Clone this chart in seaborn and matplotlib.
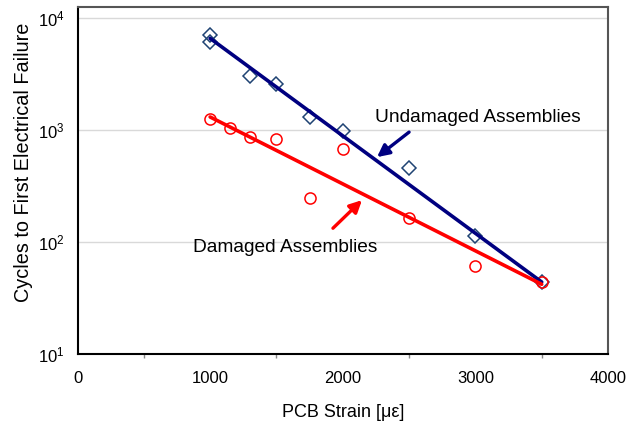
import numpy as np
import pandas as pd
import matplotlib
matplotlib.use("Agg")
import matplotlib.pyplot as plt
import seaborn as sns

# ---- data ----
strain_undamaged = [1000, 1000, 1300, 1500, 1750, 2000, 2500, 3000, 3500]
cycles_undamaged = [7050, 6100, 3030, 2570, 1300, 980, 460, 114, 44]
strain_damaged = [1000, 1150, 1300, 1500, 1750, 2000, 2500, 3000, 3500]
cycles_damaged = [1260, 1040, 870, 830, 248, 676, 164, 61, 44]
fit_strain = [1000, 3500]
fit_undamaged = [6600, 44]
fit_damaged = [1310, 42]

x_ticks = [0, 1000, 2000, 3000, 4000]
y_ticks = [10, 100, 1000, 10000]

sns.set_theme(style="white")
plt.rcParams["font.family"] = ["Liberation Sans", "DejaVu Sans"]
plt.rcParams["mathtext.fontset"] = "custom"
plt.rcParams["mathtext.rm"] = "Liberation Sans"
plt.rcParams["mathtext.it"] = "Liberation Sans:italic"

fig = plt.figure(figsize=(6.37, 4.21), dpi=100)
ax = fig.add_axes([0.1217, 0.159, 0.8328, 0.824])

df_u = pd.DataFrame({"x": strain_undamaged, "y": cycles_undamaged})
df_d = pd.DataFrame({"x": strain_damaged, "y": cycles_damaged})
fu = pd.DataFrame({"x": fit_strain, "y": fit_undamaged})
fd = pd.DataFrame({"x": fit_strain, "y": fit_damaged})

sns.lineplot(data=df_u, x="x", y="y", estimator=None, sort=False, ax=ax,
             linestyle="none", marker="D", markersize=7,
             markerfacecolor="none", markeredgecolor="#1F4373",
             markeredgewidth=1.1, zorder=3)
sns.lineplot(data=df_d, x="x", y="y", estimator=None, sort=False, ax=ax,
             linestyle="none", marker="o", markersize=8,
             markerfacecolor="none", markeredgecolor="#FF0000",
             markeredgewidth=1.1, zorder=3)
sns.lineplot(data=fu, x="x", y="y", ax=ax, color="#000080", linewidth=2.6,
             zorder=4)
sns.lineplot(data=fd, x="x", y="y", ax=ax, color="#FF0000", linewidth=2.6,
             zorder=4)

ax.set_yscale("log")
ax.set_xlim(0, 4000)
ax.set_ylim(10, 10 ** (4 + 11 / 112))
ax.set_xticks(x_ticks)
ax.set_xticklabels([str(v) for v in x_ticks])
ax.set_xticks([500, 1500, 2500, 3500], minor=True)
ax.set_yticks(y_ticks)
ax.set_yticklabels([r"$10^{%d}$" % int(np.log10(v)) for v in y_ticks])
ax.yaxis.set_minor_locator(matplotlib.ticker.NullLocator())

ax.grid(axis="y", which="major", color="#D9D9D9", linewidth=1)
ax.set_axisbelow(True)

for s in ["left", "bottom"]:
    ax.spines[s].set_color("black")
    ax.spines[s].set_linewidth(1.5)
for s in ["top", "right"]:
    ax.spines[s].set_color("#555555")
    ax.spines[s].set_linewidth(1.5)

ax.tick_params(axis="both", which="major", direction="out", length=5,
               width=1, color="black", labelsize=12, colors="black")
ax.tick_params(axis="x", which="major", pad=7)
ax.tick_params(axis="x", which="minor", direction="out", length=3,
               width=1, color="#888888", bottom=True)
ax.tick_params(axis="y", which="major", pad=4)
for lbl in ax.get_xticklabels() + ax.get_yticklabels():
    lbl.set_color("black")

ax.set_xlabel("PCB Strain [με]", fontsize=13, color="black", labelpad=13)
ax.set_ylabel("Cycles to First Electrical Failure", fontsize=14.3,
              color="black")
ax.yaxis.set_label_coords(-0.084, 0.554)

ax.text(2243, 1186, "Undamaged Assemblies", fontsize=13.8, color="black",
        ha="left", va="baseline")
ax.text(871, 81.5, "Damaged Assemblies", fontsize=13.8, color="black",
        ha="left", va="baseline")

ax.annotate("", xy=(2258, 574), xytext=(2500, 960),
            arrowprops=dict(arrowstyle="-|>,head_length=0.6,head_width=0.3",
                            color="#000080", lw=2.4, shrinkA=0, shrinkB=0),
            zorder=5)
ax.annotate("", xy=(2145, 237), xytext=(1926, 133),
            arrowprops=dict(arrowstyle="-|>,head_length=0.6,head_width=0.3",
                            color="#FF0000", lw=2.4, shrinkA=0, shrinkB=0),
            zorder=5)

fig.savefig("out.png", dpi=100)
